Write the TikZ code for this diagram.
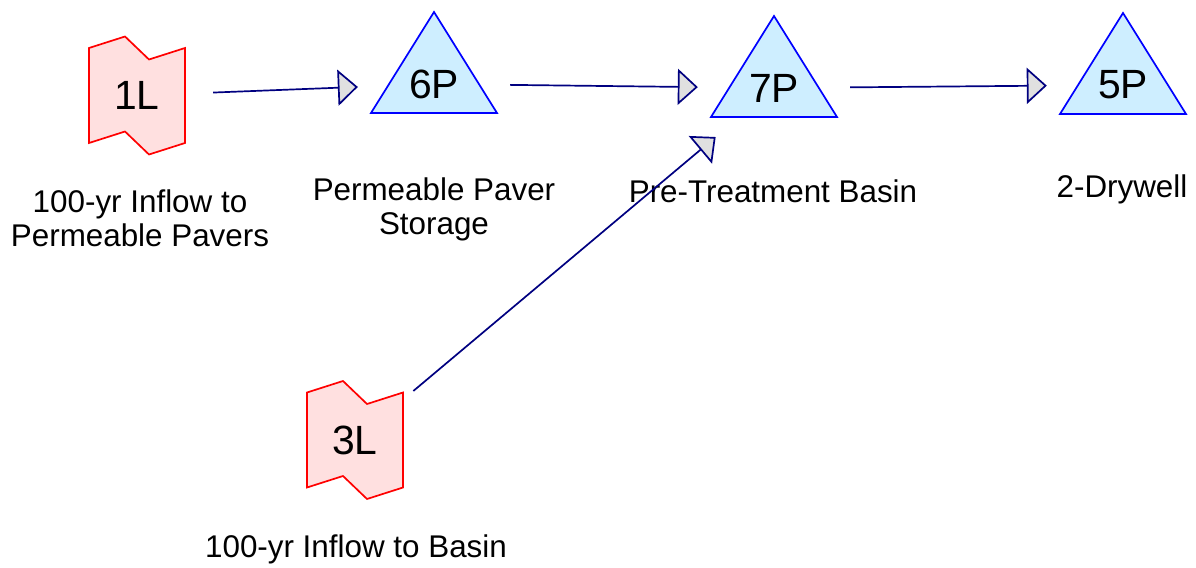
\documentclass[tikz,border=0pt]{standalone}
\usepackage{fontspec}
\setmainfont{Liberation Sans}
\usetikzlibrary{arrows.meta}
\definecolor{inflowred}{RGB}{255,0,0}
\definecolor{inflowfill}{RGB}{255,224,224}
\definecolor{pondblue}{RGB}{0,0,255}
\definecolor{pondfill}{RGB}{206,238,255}
\definecolor{routenavy}{RGB}{0,0,128}
\definecolor{tipgray}{RGB}{224,224,224}
\tikzset{
	inflowshape/.style={draw=inflowred, fill=inflowfill, line width=1.7bp},
	pondshape/.style={draw=pondblue, fill=pondfill, line width=1.7bp},
	hub/.style={circle, minimum size=152bp, inner sep=0pt, font=\fontsize{41}{41}\selectfont},
	caption/.style={align=center, anchor=base, font=\fontsize{31.5}{35}\selectfont},
	route/.style={draw=routenavy, line width=1.7bp, -{Triangle[length=20bp, width=36bp, fill=tipgray]}}
}
\def\inflow(#1){\draw[inflowshape, shift={(#1)}] (-48, -47.5) -- (-12, -59) -- (12, -36) -- (48, -47.5) -- (48, 47.5) -- (12, 59) -- (-12, 36) -- (-48, 47.5) -- cycle;}
\def\pond(#1){\draw[pondshape, shift={(#1)}] (0, -72) -- (63, 29) -- (-63, 29) -- cycle;}

\begin{document}
\begin{tikzpicture}[x=1bp, y=-1bp]
				\useasboundingbox (0, 0) rectangle (1196, 568);
				
				\inflow(137, 95.5)
				\node[hub] (n1L) at (137, 95.5) {1L};
				\node[caption] (c1L) at (140, 247) {100-yr Inflow to\\Permeable Pavers};
				
				\pond(434, 84)
				\node[hub] (n6P) at (434, 84) {6P};
				\node[caption] (c6P) at (434, 235) {Permeable Paver\\Storage};
				
				\pond(774, 88)
				\node[hub] (n7P) at (774, 88) {7P};
				\node[caption] (c7P) at (773, 203) {Pre-Treatment Basin};
				
				\pond(1123, 85)
				\node[hub] (n5P) at (1123, 85) {5P};
				\node[caption] (c5P) at (1122, 198) {2-Drywell};
				
				\inflow(355, 440)
				\node[hub] (n3L) at (355, 440) {3L};
				\node[caption] (c3L) at (356, 557) {100-yr Inflow to Basin};
				
				\draw[route] (n1L) -- (n6P);
				\draw[route] (n6P) -- (n7P);
				\draw[route] (n7P) -- (n5P);
				\draw[route] (n3L) -- (n7P);
			\end{tikzpicture}
\end{document}
